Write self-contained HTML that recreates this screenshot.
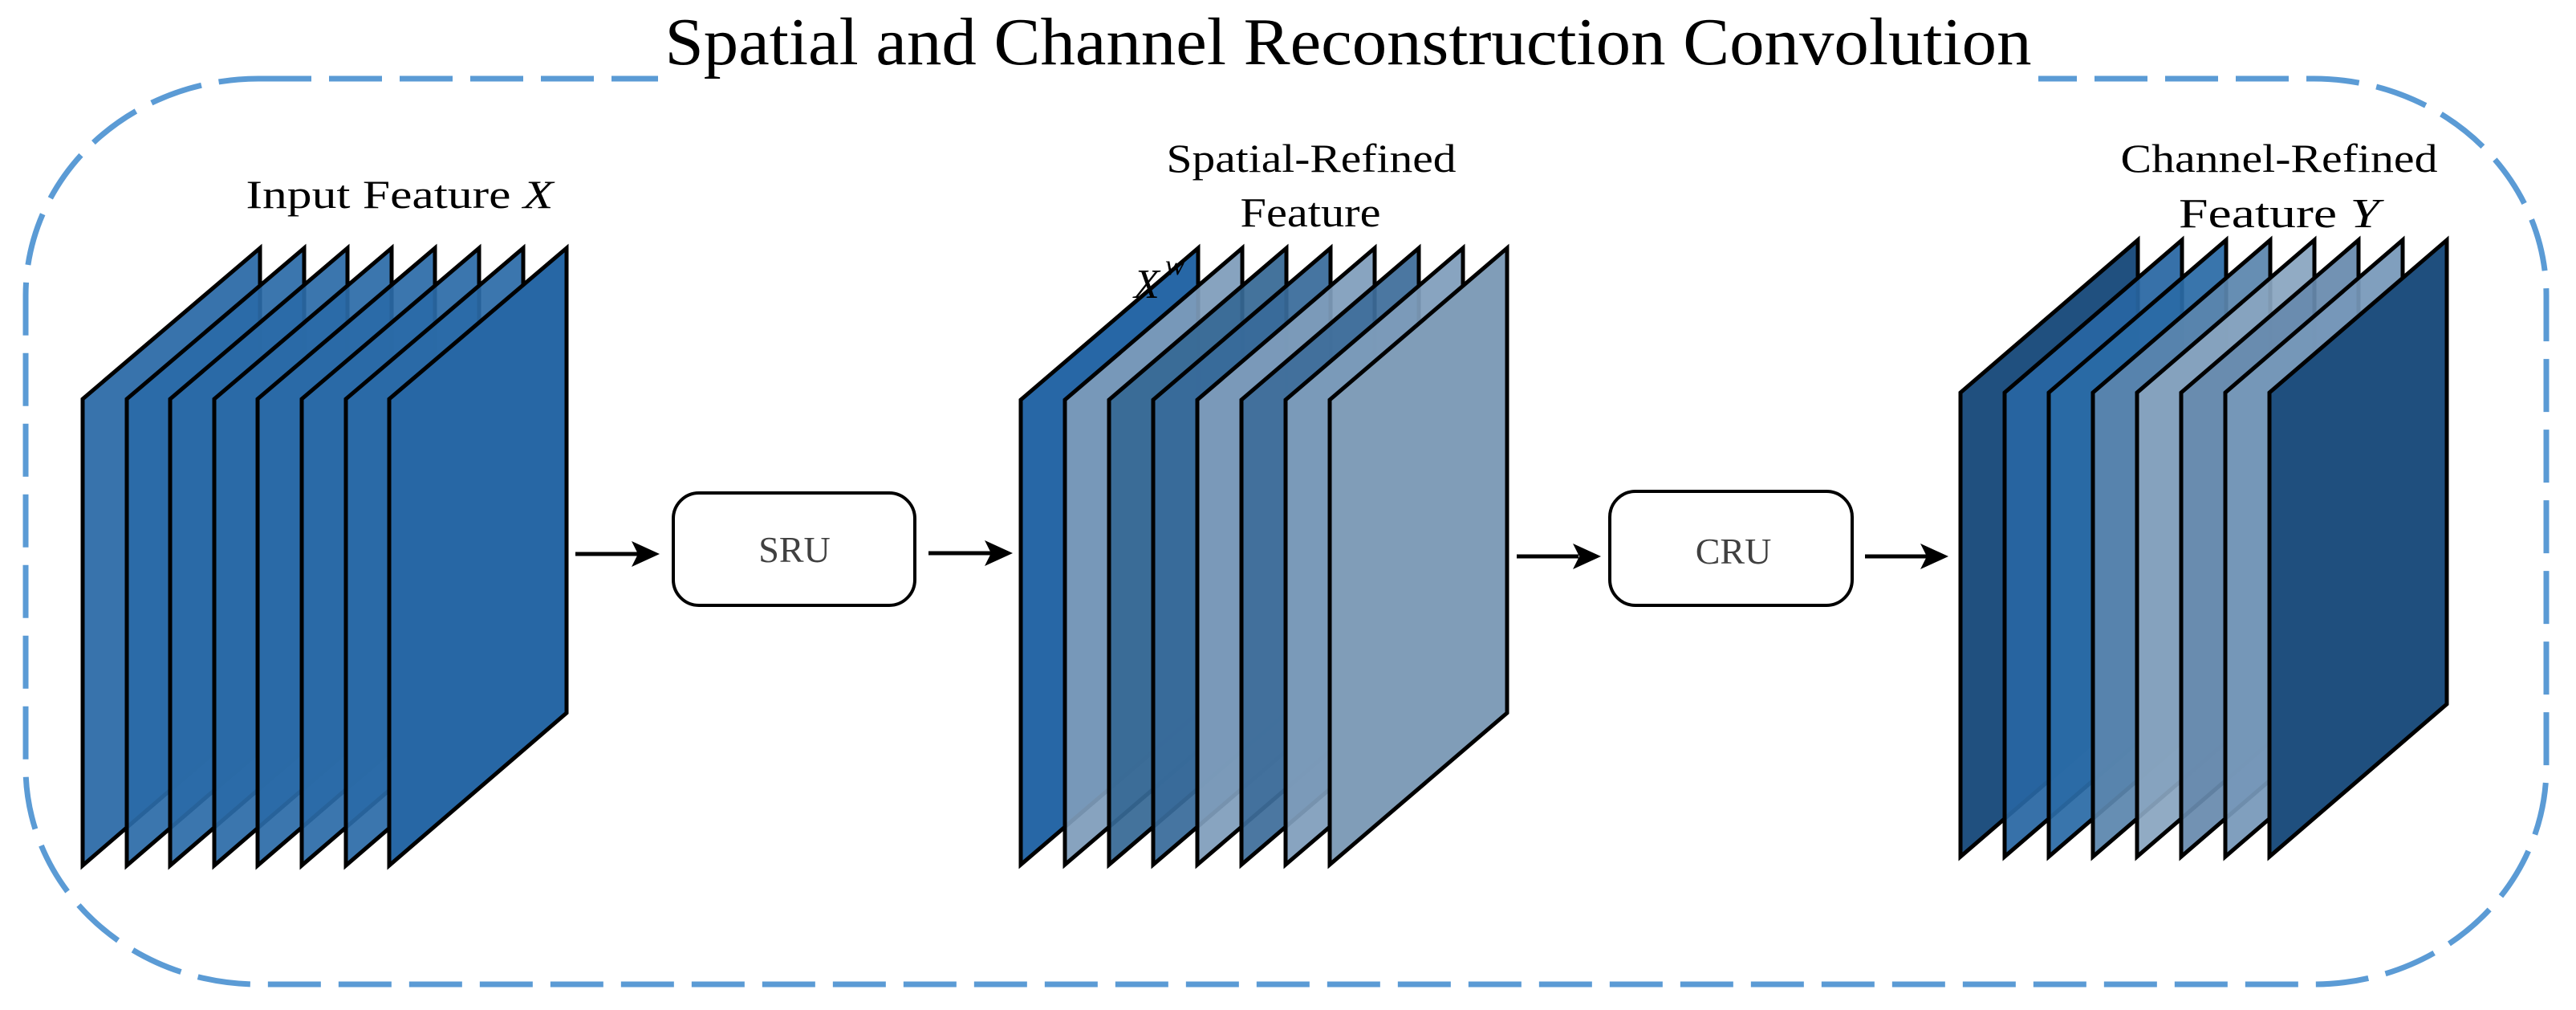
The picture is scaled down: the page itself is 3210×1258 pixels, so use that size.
<!DOCTYPE html>
<html><head><meta charset="utf-8"><style>html,body{margin:0;padding:0;background:#fff}svg{display:block}</style></head>
<body>
<svg width="3210" height="1258" viewBox="0 0 3210 1258" xmlns="http://www.w3.org/2000/svg" font-family="'Liberation Serif', serif">
<rect x="32" y="98" width="3141" height="1128" rx="290" ry="270" fill="none" stroke="#5b9bd5" stroke-width="7" stroke-dasharray="66 22"/>
<rect x="820" y="20" width="1720" height="90" fill="#fff"/>
<text x="1680" y="80" font-size="84" text-anchor="middle" textLength="1703" lengthAdjust="spacingAndGlyphs">Spatial and Channel Reconstruction Convolution</text>

<text x="498" y="259" font-size="50" text-anchor="middle" textLength="383" lengthAdjust="spacingAndGlyphs">Input Feature <tspan font-style="italic">X</tspan></text>
<g stroke="#000" stroke-width="5" stroke-linejoin="miter" fill-opacity="0.92">
<polygon points="103,497 324,309 324,888 103,1078" fill="#2767a5"/>
<polygon points="158,497 379,309 379,888 158,1078" fill="#2a6aa7"/>
<polygon points="212,497 433,309 433,888 212,1078" fill="#2a6aa7"/>
<polygon points="267,497 488,309 488,888 267,1078" fill="#2a6aa7"/>
<polygon points="321,497 542,309 542,888 321,1078" fill="#2a6aa7"/>
<polygon points="376,497 597,309 597,888 376,1078" fill="#2a6aa7"/>
<polygon points="431,497 652,309 652,888 431,1078" fill="#2a6aa7"/>
<polygon points="485,497 706,309 706,888 485,1078" fill="#2767a5" fill-opacity="1"/>
</g>

<text x="1634" y="214" font-size="50" text-anchor="middle" textLength="361" lengthAdjust="spacingAndGlyphs">Spatial-Refined</text>
<text x="1633" y="282" font-size="52" text-anchor="middle" textLength="175" lengthAdjust="spacingAndGlyphs">Feature</text>
<g stroke="#000" stroke-width="5" fill-opacity="0.93">
<polygon points="1272,498 1493,309 1493,888 1272,1077" fill="#2767a6" fill-opacity="1"/>
<polygon points="1327,498 1548,309 1548,888 1327,1077" fill="#7e9cba"/>
<polygon points="1382,498 1603,309 1603,888 1382,1077" fill="#366895"/>
<polygon points="1437,498 1658,309 1658,888 1437,1077" fill="#386b9a"/>
<polygon points="1492,498 1713,309 1713,888 1492,1077" fill="#7f9dbb"/>
<polygon points="1547,498 1768,309 1768,888 1547,1077" fill="#3d6d9a"/>
<polygon points="1602,498 1823,309 1823,888 1602,1077" fill="#7f9dbb"/>
<polygon points="1657,498 1878,309 1878,888 1657,1077" fill="#809db8" fill-opacity="1"/>
</g>
<text x="1413" y="371" font-size="52" font-style="italic">X</text>
<text x="1452" y="342" font-size="36" font-style="italic">w</text>

<text x="2840" y="214" font-size="50" text-anchor="middle" textLength="395" lengthAdjust="spacingAndGlyphs">Channel-Refined</text>
<text x="2840" y="283" font-size="52" text-anchor="middle" textLength="250" lengthAdjust="spacingAndGlyphs">Feature <tspan font-style="italic">Y</tspan></text>
<g stroke="#000" stroke-width="5" fill-opacity="0.93">
<polygon points="2443,489 2664,299 2664,877 2443,1067" fill="#20507f" fill-opacity="1"/>
<polygon points="2498,489 2719,299 2719,877 2498,1067" fill="#2866a2"/>
<polygon points="2553,489 2774,299 2774,877 2553,1067" fill="#2a6aa6"/>
<polygon points="2608,489 2829,299 2829,877 2608,1067" fill="#5a85ad"/>
<polygon points="2663,489 2884,299 2884,877 2663,1067" fill="#89a5bf"/>
<polygon points="2718,489 2939,299 2939,877 2718,1067" fill="#678aad"/>
<polygon points="2773,489 2994,299 2994,877 2773,1067" fill="#7698b9"/>
<polygon points="2828,489 3049,299 3049,877 2828,1067" fill="#1f4f7e" fill-opacity="1"/>
</g>

<rect x="839" y="614" width="301" height="140" rx="32" fill="#fff" stroke="#000" stroke-width="4"/>
<text x="990" y="700" font-size="46" fill="#404040" text-anchor="middle">SRU</text>
<rect x="2006" y="612" width="302" height="142" rx="32" fill="#fff" stroke="#000" stroke-width="4"/>
<text x="2160" y="702" font-size="46" fill="#404040" text-anchor="middle">CRU</text>

<g stroke="#000" stroke-width="5" fill="#000">
<line x1="717" y1="690" x2="795" y2="690"/><polygon points="822,690 787,674 795,690 787,706" stroke="none"/>
<line x1="1157" y1="689" x2="1235" y2="689"/><polygon points="1262,689 1227,673 1235,689 1227,705" stroke="none"/>
<line x1="1890" y1="693" x2="1967" y2="693"/><polygon points="1995,693 1960,677 1968,693 1960,709" stroke="none"/>
<line x1="2324" y1="693" x2="2401" y2="693"/><polygon points="2428,693 2393,677 2401,693 2393,709" stroke="none"/>
</g>
</svg>
</body></html>
